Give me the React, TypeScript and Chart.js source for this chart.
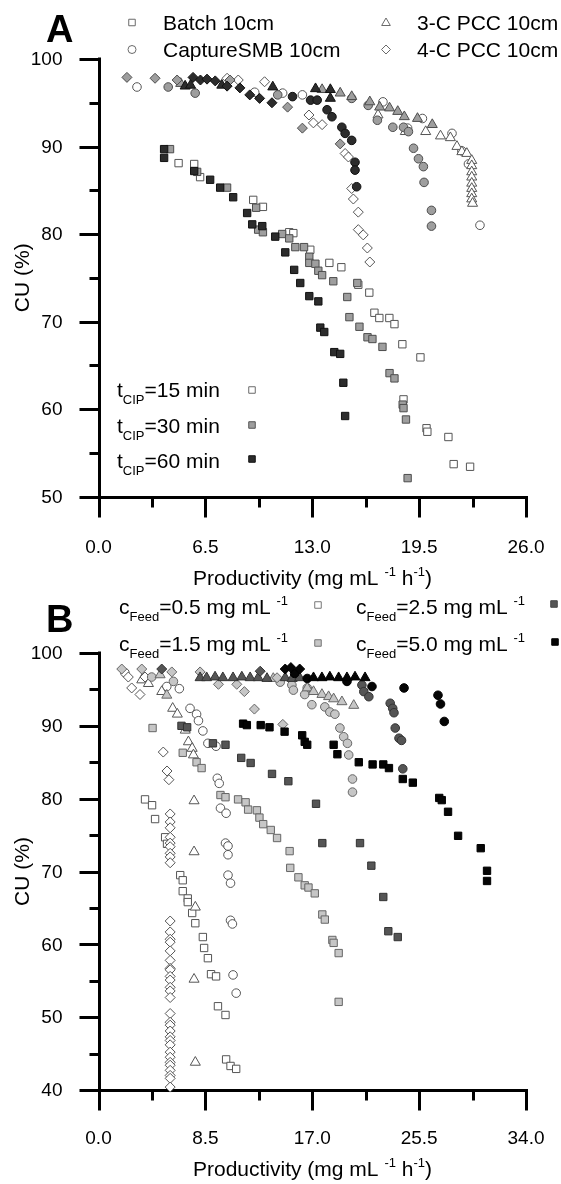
import React, { useEffect, useRef } from "react";
import { Chart, registerables } from "chart.js";

Chart.register(...registerables);

type Pt = [number, number];

// ---------------- Panel A (colour = t_CIP, shape = process) ----------------
const A_BATCH_15: Pt[] = [[4.87,88.1],[5.82,88.0],[6.18,86.5],[9.41,83.9],[10.0,83.1],[11.6,80.2],[11.85,80.1],[12.88,78.2],[14.04,76.7],[14.77,76.2],[15.8,74.2],[16.47,73.3],[16.78,71.0],[17.08,70.4],[17.69,70.4],[18.0,69.7],[18.48,67.4],[19.58,65.9],[18.55,61.1],[19.95,57.8],[20.0,57.4],[21.28,56.8],[21.6,53.7],[22.6,53.4]];
const A_BATCH_30: Pt[] = [[4.35,89.7],[6.0,87.1],[7.82,85.3],[9.59,83.0],[9.71,80.5],[10.0,80.2],[11.17,80.0],[11.6,79.5],[11.97,78.5],[12.5,78.5],[12.82,77.4],[12.82,76.7],[13.19,76.6],[13.37,75.8],[13.6,75.3],[14.28,74.6],[15.74,74.4],[15.13,72.8],[15.26,70.5],[15.87,69.4],[16.36,68.2],[16.66,68.0],[17.27,67.1],[17.7,64.1],[18.0,63.5],[18.5,60.5],[18.55,60.1],[18.7,58.8],[18.8,52.1]];
const A_BATCH_60: Pt[] = [[3.99,89.7],[3.99,88.7],[5.82,87.2],[6.79,86.2],[7.4,85.3],[8.19,84.2],[9.04,82.4],[9.35,81.1],[9.96,80.9],[10.75,79.7],[11.36,77.9],[11.9,75.9],[12.27,74.4],[12.82,72.9],[13.37,72.3],[13.49,69.3],[13.73,68.8],[14.34,66.5],[14.7,66.3],[14.89,63.0],[15.0,59.2]];

const A_SMB_15: Pt[] = [[2.34,96.8],[9.5,96.2],[11.2,96.1],[12.4,95.9],[17.3,95.1],[18.8,92.1],[19.7,93.2],[21.5,91.5],[22.1,89.5],[22.5,88.0],[23.2,81.0]];
const A_SMB_30: Pt[] = [[4.24,96.8],[5.88,96.1],[10.9,95.9],[15.4,95.5],[16.4,94.7],[16.96,93.0],[17.9,92.2],[18.55,92.2],[18.85,91.7],[19.16,89.8],[19.46,88.6],[19.76,87.7],[19.8,85.9],[20.25,82.7],[20.25,80.9]];
const A_SMB_60: Pt[] = [[11.8,95.7],[12.9,95.3],[13.3,95.3],[13.9,94.2],[14.2,93.4],[14.8,92.2],[15.0,91.5],[15.4,90.7],[15.6,88.2],[15.6,87.3],[15.7,85.4]];

const A_PCC3_15: Pt[] = [[17.0,93.6],[18.66,91.7],[19.9,91.7],[20.8,91.2],[21.4,91.0],[21.8,90.0],[22.1,89.4],[22.4,89.2],[22.7,88.4],[22.7,87.8],[22.7,87.1],[22.7,86.5],[22.7,85.8],[22.7,85.2],[22.7,84.6],[22.7,84.0],[22.75,83.5]];
const A_PCC3_30: Pt[] = [[5.0,97.2],[13.6,96.5],[14.7,96.1],[15.4,95.7],[16.5,95.1],[17.1,94.5],[17.7,94.4],[18.2,94.0],[18.6,93.4],[19.4,93.2],[20.3,92.5]];
const A_PCC3_60: Pt[] = [[5.27,96.9],[5.6,97.0],[7.5,97.0],[10.6,96.8],[13.2,96.6],[14.1,96.5],[14.1,95.5]];

const A_PCC4_15: Pt[] = [[7.82,97.8],[8.5,97.6],[10.1,97.4],[12.8,93.6],[13.07,92.7],[13.6,92.5],[15.0,89.2],[15.2,88.8],[15.4,85.2],[15.5,84.0],[15.8,82.5],[15.8,80.5],[16.1,79.9],[16.35,78.4],[16.5,76.8]];
const A_PCC4_30: Pt[] = [[1.73,97.9],[3.44,97.8],[4.78,97.6],[8.0,97.6],[11.5,94.5],[12.4,92.1],[14.7,90.3]];
const A_PCC4_60: Pt[] = [[5.75,97.9],[6.2,97.6],[6.6,97.7],[7.1,97.5],[7.82,96.9],[8.6,96.7],[9.2,95.9],[9.8,95.5],[10.55,95.0]];

// ---------------- Panel B (colour = c_Feed, shape = process) ----------------
const B_BATCH_05: Pt[] = [[3.7,79.9],[4.26,79.1],[4.5,77.2],[5.3,74.7],[5.45,73.8],[6.5,69.5],[6.7,68.8],[6.7,67.3],[7.1,66.3],[7.1,65.8],[7.45,64.3],[7.7,62.9],[8.3,61.0],[8.4,59.5],[8.7,58.1],[8.95,55.9],[9.35,55.6],[9.5,51.5],[10.1,50.3],[10.15,44.2],[10.5,43.3],[10.95,42.9]];
const B_BATCH_15: Pt[] = [[4.3,89.7],[6.7,86.3],[7.8,85.0],[8.2,84.2],[9.7,80.5],[10.1,80.2],[11.1,79.9],[11.7,79.5],[11.9,78.5],[12.6,78.4],[12.8,77.4],[13.1,76.5],[13.7,75.7],[14.2,74.6],[15.2,72.8],[15.25,70.5],[15.9,69.2],[16.4,68.1],[16.7,67.8],[17.2,67.0],[17.8,64.1],[18.0,63.4],[18.6,60.6],[18.7,60.2],[19.1,58.8],[19.1,52.1]];
const B_BATCH_25: Pt[] = [[6.6,90.0],[7.05,89.8],[9.1,87.6],[10.1,87.4],[11.35,85.6],[12.1,84.9],[13.8,83.4],[15.1,82.4],[17.3,79.3],[17.8,73.9],[20.8,73.9],[21.7,70.8],[22.65,66.5],[23.05,61.8],[23.8,61.0]];
const B_BATCH_50: Pt[] = [[11.5,90.3],[11.8,90.1],[12.9,90.1],[13.6,89.8],[14.8,89.2],[16.2,88.7],[16.4,87.8],[16.6,87.4],[18.7,87.4],[19.0,86.1],[20.7,85.0],[21.8,84.7],[22.65,84.7],[23.1,84.2],[24.2,82.7],[25.0,82.2],[27.1,80.1],[27.3,79.8],[27.8,78.2],[28.6,74.9],[30.4,73.2],[30.9,70.1],[30.9,68.7]];

const B_SMB_05: Pt[] = [[2.1,97.3],[5.43,95.4],[6.43,95.1],[7.28,92.4],[7.8,91.6],[7.95,90.7],[8.3,89.3],[8.7,87.6],[9.35,87.2],[9.45,82.8],[9.6,82.1],[9.7,78.7],[10.15,78.0],[10.1,73.9],[10.3,73.5],[10.3,72.3],[10.3,69.5],[10.5,68.4],[10.5,63.3],[10.65,62.8],[10.7,55.8],[10.95,53.3]];
const B_SMB_15: Pt[] = [[4.23,96.7],[5.96,96.1],[14.45,96.0],[15.38,95.6],[15.5,94.9],[16.6,95.2],[16.4,94.3],[16.97,92.9],[18.0,92.6],[18.4,91.9],[18.8,91.6],[19.2,89.7],[19.5,88.5],[19.8,87.6],[19.9,86.0],[20.2,82.7],[20.2,80.9]];
const B_SMB_25: Pt[] = [[20.95,95.6],[21.1,94.7],[21.5,94.0],[23.2,93.1],[23.4,92.4],[23.5,91.8],[23.6,89.7],[23.9,88.3],[24.1,88.0],[24.2,84.1]];
const B_SMB_50: Pt[] = [[15.6,97.2],[16.6,96.5],[19.76,96.1],[21.75,95.4],[24.3,95.2],[27.0,94.2],[27.2,93.0],[27.5,90.6]];

const B_PCC3_05: Pt[] = [[3.44,96.3],[3.97,95.8],[5.03,94.7],[5.9,92.4],[6.27,91.6],[6.9,89.4],[7.15,87.8],[7.45,86.9],[7.55,86.0],[7.6,79.7],[7.6,72.7],[7.7,65.1],[7.6,55.2],[7.7,43.8]];
const B_PCC3_15: Pt[] = [[4.9,97.0],[5.43,94.2],[13.9,96.5],[16.6,95.2],[17.1,94.7],[17.77,94.3],[18.3,94.0],[18.7,93.7],[19.36,93.3],[20.3,92.8]];
const B_PCC3_25: Pt[] = [[8.08,96.6],[8.6,96.6],[9.27,96.7],[9.89,96.6],[10.7,96.6],[11.4,96.7],[12.06,96.6],[12.7,96.6],[13.4,96.5],[14.85,96.6],[15.4,96.5],[16.0,96.6]];
const B_PCC3_50: Pt[] = [[17.1,96.6],[17.77,96.6],[18.4,96.7],[19.1,96.6],[19.76,96.6],[20.4,96.7],[21.2,96.6]];

const B_PCC4_05: Pt[] = [[2.37,96.7],[2.64,95.2],[3.3,94.3],[3.7,96.7],[5.15,86.4],[5.45,83.8],[5.6,82.6],[5.7,77.9],[5.7,76.8],[5.7,76.0],[5.7,74.7],[5.7,73.9],[5.7,73.4],[5.7,72.5],[5.7,72.0],[5.7,71.2],[5.7,63.2],[5.7,61.7],[5.7,60.7],[5.7,60.3],[5.7,59.1],[5.7,57.8],[5.7,56.7],[5.7,56.5],[5.7,55.6],[5.7,55.1],[5.7,54.1],[5.7,53.6],[5.7,52.7],[5.7,50.5],[5.7,49.3],[5.7,48.9],[5.7,48.1],[5.7,47.3],[5.7,46.8],[5.7,46.2],[5.7,45.2],[5.7,44.5],[5.7,43.8],[5.7,43.4],[5.7,42.7],[5.7,42.0],[5.7,41.6],[5.7,40.4]];
const B_PCC4_15: Pt[] = [[1.85,97.8],[3.44,97.8],[5.83,97.4],[8.08,97.4],[9.54,95.7],[11.0,95.7],[11.6,94.7],[12.4,92.3],[14.2,96.6],[14.66,90.2]];
const B_PCC4_25: Pt[] = [[5.03,97.8],[12.86,97.5]];
const B_PCC4_50: Pt[] = [[14.85,97.8],[15.3,98.0],[16.0,97.8]];

// ---------------- axes ----------------
const A_X_TICKS = [0, 6.5, 13, 19.5, 26];
const A_Y_TICKS = [50, 60, 70, 80, 90, 100];
const B_X_TICKS = [0, 8.5, 17, 25.5, 34];
const B_Y_TICKS = [40, 50, 60, 70, 80, 90, 100];
const Y_TITLE = "CU (%)";

const FONT = "'Liberation Sans', Arial, Helvetica, sans-serif";

type Shape = "rect" | "circle" | "triangle" | "rectRot";
type Sty = { fill: string; stroke: string };

const A_C15: Sty = { fill: "#ffffff", stroke: "#555555" };
const A_C30: Sty = { fill: "#9e9e9e", stroke: "#4d4d4d" };
const A_C60: Sty = { fill: "#2c2c2c", stroke: "#111111" };
const B_C05: Sty = { fill: "#ffffff", stroke: "#555555" };
const B_C15: Sty = { fill: "#c6c6c6", stroke: "#666666" };
const B_C25: Sty = { fill: "#555555", stroke: "#333333" };
const B_C50: Sty = { fill: "#050505", stroke: "#000000" };

const RADIUS: Record<Shape, number> = { rect: 5.2, circle: 4.3, triangle: 5.8, rectRot: 5.0 };

function series(label: string, data: Pt[], shape: Shape, s: Sty) {
  return {
    label,
    data: data.map(([x, y]) => ({ x, y })),
    pointStyle: shape,
    pointRadius: RADIUS[shape],
    pointBackgroundColor: s.fill,
    pointBorderColor: s.stroke,
    pointBorderWidth: 1,
    showLine: false,
    clip: false,
  };
}

function shapePath(ctx: CanvasRenderingContext2D, shape: Shape, x: number, y: number, r: number) {
  ctx.beginPath();
  if (shape === "circle") ctx.arc(x, y, r, 0, Math.PI * 2);
  else if (shape === "rect") {
    const s = r * Math.SQRT1_2;
    ctx.rect(x - s, y - s, 2 * s, 2 * s);
  } else if (shape === "triangle") {
    ctx.moveTo(x, y - r);
    ctx.lineTo(x + 0.866 * r, y + 0.5 * r);
    ctx.lineTo(x - 0.866 * r, y + 0.5 * r);
    ctx.closePath();
  } else {
    ctx.moveTo(x - r, y);
    ctx.lineTo(x, y - r);
    ctx.lineTo(x + r, y);
    ctx.lineTo(x, y + r);
    ctx.closePath();
  }
}

const framePlugin = {
  id: "frame",
  beforeDatasetsDraw(chart: any, _a: any, opts: any) {
    const { ctx, chartArea } = chart;
    const L = Math.round(chartArea.left) + 0.5;
    const B = Math.round(chartArea.bottom) + 0.5;
    const T = chartArea.top;
    const R = chartArea.right;
    const xs = chart.scales.x;
    const ys = chart.scales.y;
    const xt: number[] = opts.xTicks;
    const yt: number[] = opts.yTicks;
    ctx.save();
    ctx.strokeStyle = "#000";
    ctx.lineWidth = 3;
    ctx.lineCap = "butt";
    ctx.beginPath();
    ctx.moveTo(L, T - 1.5);
    ctx.lineTo(L, B + 1.5);
    ctx.moveTo(L - 1.5, B);
    ctx.lineTo(R + 1.5, B);
    const yMinor: number[] = [];
    for (let i = 0; i < yt.length - 1; i++) yMinor.push((yt[i] + yt[i + 1]) / 2);
    const xMinor: number[] = [];
    for (let i = 0; i < xt.length - 1; i++) xMinor.push((xt[i] + xt[i + 1]) / 2);
    yt.forEach((v) => {
      const p = Math.round(ys.getPixelForValue(v)) + 0.5;
      ctx.moveTo(L - 20, p);
      ctx.lineTo(L + 1.5, p);
    });
    yMinor.forEach((v) => {
      const p = Math.round(ys.getPixelForValue(v)) + 0.5;
      ctx.moveTo(L - 10, p);
      ctx.lineTo(L, p);
    });
    xt.forEach((v) => {
      const p = Math.round(xs.getPixelForValue(v)) + 0.5;
      ctx.moveTo(p, B - 1.5);
      ctx.lineTo(p, B + 20);
    });
    xMinor.forEach((v) => {
      const p = Math.round(xs.getPixelForValue(v)) + 0.5;
      ctx.moveTo(p, B);
      ctx.lineTo(p, B + 10);
    });
    ctx.stroke();

    // tick labels (from the scales)
    ctx.fillStyle = "#000";
    ctx.font = `19px ${FONT}`;
    ctx.textBaseline = "middle";
    ctx.textAlign = "right";
    yt.forEach((v) => ctx.fillText(String(v), chartArea.left - 36, ys.getPixelForValue(v) + 1));
    ctx.textAlign = "center";
    xt.forEach((v) => ctx.fillText(v.toFixed(1), xs.getPixelForValue(v), chartArea.bottom + opts.xLabelOffset));

    // y axis title
    ctx.save();
    ctx.translate(23, (chartArea.top + chartArea.bottom) / 2);
    ctx.rotate(-Math.PI / 2);
    ctx.font = `21px ${FONT}`;
    ctx.textAlign = "center";
    ctx.textBaseline = "middle";
    ctx.fillText(opts.yTitle, 0, 0);
    ctx.restore();
    ctx.restore();
  },
  afterDraw(chart: any, _a: any, opts: any) {
    const ctx: CanvasRenderingContext2D = chart.ctx;
    (opts.markers || []).forEach((m: any) => {
      ctx.save();
      shapePath(ctx, m.shape, m.x, m.y, m.r);
      ctx.fillStyle = m.fill;
      ctx.fill();
      ctx.lineWidth = 1;
      ctx.strokeStyle = m.stroke;
      ctx.stroke();
      ctx.restore();
    });
  },
};

function makeConfig(opts: {
  datasets: any[];
  xMax: number;
  yMin: number;
  xTicks: number[];
  yTicks: number[];
  padTop: number;
  padBottom: number;
  xLabelOffset: number;
  markers: any[];
}): any {
  return {
    type: "scatter",
    data: { datasets: opts.datasets },
    plugins: [framePlugin],
    options: {
      animation: false,
      responsive: false,
      maintainAspectRatio: false,
      events: [],
      layout: { padding: { left: 98.5, top: opts.padTop, right: 35, bottom: opts.padBottom } },
      plugins: {
        legend: { display: false },
        tooltip: { enabled: false },
        frame: {
          xTicks: opts.xTicks,
          yTicks: opts.yTicks,
          markers: opts.markers,
          yTitle: Y_TITLE,
          xLabelOffset: opts.xLabelOffset,
        },
      },
      scales: {
        x: { type: "linear", min: 0, max: opts.xMax, display: false },
        y: { type: "linear", min: opts.yMin, max: 100, display: false },
      },
    },
  };
}

const LEG_WHITE = { fill: "#ffffff", stroke: "#6a6a6a" };

function Txt(props: { x: number; cy: number; size?: number; bold?: boolean; children: any; center?: boolean }) {
  const size = props.size || 21;
  const style: any = {
    position: "absolute",
    top: props.cy - 0.4885 * size,
    fontSize: size,
    lineHeight: `${size}px`,
    fontWeight: props.bold ? "bold" : "normal",
    whiteSpace: "nowrap",
  };
  if (props.center) {
    style.left = props.x - 250;
    style.width = 500;
    style.textAlign = "center";
  } else {
    style.left = props.x;
  }
  return <div style={style}>{props.children}</div>;
}

const Sub = (p: { children: any }) => (
  <span style={{ fontSize: 13, position: "relative", top: 7 }}>{p.children}</span>
);
const Sup = (p: { children: any }) => (
  <span style={{ fontSize: 13, position: "relative", top: -9 }}>{p.children}</span>
);

export default function App() {
  const refA = useRef<HTMLCanvasElement>(null);
  const refB = useRef<HTMLCanvasElement>(null);

  useEffect(() => {
    const cfgA = makeConfig({
      datasets: [
        series("4-C PCC 60", A_PCC4_60, "rectRot", A_C60),
        series("3-C PCC 60", A_PCC3_60, "triangle", A_C60),
        series("CaptureSMB 60", A_SMB_60, "circle", A_C60),
        series("Batch 60", A_BATCH_60, "rect", A_C60),
        series("4-C PCC 30", A_PCC4_30, "rectRot", A_C30),
        series("3-C PCC 30", A_PCC3_30, "triangle", A_C30),
        series("CaptureSMB 30", A_SMB_30, "circle", A_C30),
        series("Batch 30", A_BATCH_30, "rect", A_C30),
        series("4-C PCC 15", A_PCC4_15, "rectRot", A_C15),
        series("3-C PCC 15", A_PCC3_15, "triangle", A_C15),
        series("CaptureSMB 15", A_SMB_15, "circle", A_C15),
        series("Batch 15", A_BATCH_15, "rect", A_C15),
      ],
      xMax: 26,
      yMin: 50,
      xTicks: A_X_TICKS,
      yTicks: A_Y_TICKS,
      padTop: 59,
      padBottom: 93.5,
      xLabelOffset: 51,
      markers: [
        { shape: "rect", x: 132, y: 22.5, r: 4.6, ...LEG_WHITE },
        { shape: "circle", x: 132, y: 49.5, r: 4.0, ...LEG_WHITE },
        { shape: "triangle", x: 386, y: 23, r: 5.0, ...LEG_WHITE },
        { shape: "rectRot", x: 386, y: 49.5, r: 4.5, ...LEG_WHITE },
        { shape: "rect", x: 252, y: 390, r: 4.6, fill: "#ffffff", stroke: "#6a6a6a" },
        { shape: "rect", x: 252, y: 425, r: 4.6, fill: "#9e9e9e", stroke: "#555555" },
        { shape: "rect", x: 252, y: 459, r: 4.6, fill: "#2c2c2c", stroke: "#111111" },
      ],
    });
    const cfgB = makeConfig({
      datasets: [
        series("4-C PCC 5.0", B_PCC4_50, "rectRot", B_C50),
        series("3-C PCC 5.0", B_PCC3_50, "triangle", B_C50),
        series("CaptureSMB 5.0", B_SMB_50, "circle", B_C50),
        series("Batch 5.0", B_BATCH_50, "rect", B_C50),
        series("4-C PCC 2.5", B_PCC4_25, "rectRot", B_C25),
        series("3-C PCC 2.5", B_PCC3_25, "triangle", B_C25),
        series("CaptureSMB 2.5", B_SMB_25, "circle", B_C25),
        series("Batch 2.5", B_BATCH_25, "rect", B_C25),
        series("4-C PCC 1.5", B_PCC4_15, "rectRot", B_C15),
        series("3-C PCC 1.5", B_PCC3_15, "triangle", B_C15),
        series("CaptureSMB 1.5", B_SMB_15, "circle", B_C15),
        series("Batch 1.5", B_BATCH_15, "rect", B_C15),
        series("4-C PCC 0.5", B_PCC4_05, "rectRot", B_C05),
        series("3-C PCC 0.5", B_PCC3_05, "triangle", B_C05),
        series("CaptureSMB 0.5", B_SMB_05, "circle", B_C05),
        series("Batch 0.5", B_BATCH_05, "rect", B_C05),
      ],
      xMax: 34,
      yMin: 40,
      xTicks: B_X_TICKS,
      yTicks: B_Y_TICKS,
      padTop: 63,
      padBottom: 94,
      xLabelOffset: 49,
      markers: [
        { shape: "rect", x: 318, y: 15, r: 4.6, fill: "#ffffff", stroke: "#777777" },
        { shape: "rect", x: 318, y: 53, r: 4.6, fill: "#c6c6c6", stroke: "#777777" },
        { shape: "rect", x: 554, y: 14, r: 4.6, fill: "#555555", stroke: "#444444" },
        { shape: "rect", x: 555, y: 52, r: 4.6, fill: "#050505", stroke: "#000000" },
      ],
    });
    const a = new Chart(refA.current as HTMLCanvasElement, cfgA);
    const b = new Chart(refB.current as HTMLCanvasElement, cfgB);
    return () => {
      a.destroy();
      b.destroy();
    };
  }, []);

  return (
    <div
      style={{
        position: "absolute",
        left: 0,
        top: 0,
        width: 561,
        height: 1184,
        background: "#fff",
        color: "#000",
        fontFamily: FONT,
        overflow: "hidden",
      }}
    >
      <canvas ref={refA} width={561} height={590} style={{ position: "absolute", left: 0, top: 0 }} />
      <canvas ref={refB} width={561} height={594} style={{ position: "absolute", left: 0, top: 590 }} />

      {/* Panel A labels */}
      <Txt x={46} cy={29} size={38} bold>A</Txt>
      <Txt x={163} cy={22.5}>Batch 10cm</Txt>
      <Txt x={163} cy={49.5}>CaptureSMB 10cm</Txt>
      <Txt x={417} cy={22.5}>3-C PCC 10cm</Txt>
      <Txt x={417} cy={49.5}>4-C PCC 10cm</Txt>
      <Txt x={117} cy={389.5}>t<Sub>CIP</Sub>=15 min</Txt>
      <Txt x={117} cy={425}>t<Sub>CIP</Sub>=30 min</Txt>
      <Txt x={117} cy={460}>t<Sub>CIP</Sub>=60 min</Txt>
      <Txt x={312.5} cy={577} center>
        Productivity (mg mL{"\u00a0"}<Sup>-1</Sup> h<Sup>-1</Sup>)
      </Txt>

      {/* Panel B labels */}
      <Txt x={46} cy={619} size={38} bold>B</Txt>
      <Txt x={119} cy={606}>c<Sub>Feed</Sub>=0.5 mg mL{"\u00a0"}<Sup>-1</Sup></Txt>
      <Txt x={119} cy={643}>c<Sub>Feed</Sub>=1.5 mg mL{"\u00a0"}<Sup>-1</Sup></Txt>
      <Txt x={356} cy={606}>c<Sub>Feed</Sub>=2.5 mg mL{"\u00a0"}<Sup>-1</Sup></Txt>
      <Txt x={356} cy={643}>c<Sub>Feed</Sub>=5.0 mg mL{"\u00a0"}<Sup>-1</Sup></Txt>
      <Txt x={312.5} cy={1168} center>
        Productivity (mg mL{"\u00a0"}<Sup>-1</Sup> h<Sup>-1</Sup>)
      </Txt>
    </div>
  );
}
